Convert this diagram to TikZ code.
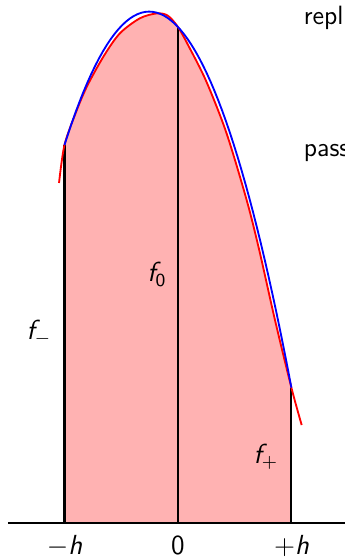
\documentclass[tikz,border=0pt]{standalone}
\tikzset{stem/.style={line width=0.9pt,black},fit/.style={thick,blue},true/.style={thick,red}}
\newcommand{\vlab}[2]{{\itshape #1}\textsubscript{#2}}

\begin{document}
\begin{tikzpicture}[x=1.735cm,y=1.735cm,font=\sffamily]
\useasboundingbox (-1.568,-0.2996) rectangle (1.471,4.608);
% sample values at -h, 0, +h
\def\fminus{3.33}
\def\fzero{4.37}
\def\fplus{1.19}
% area under the true function
\begin{scope}
\clip (-1,0) rectangle (1,5);
\fill[red!30] (-1.048,0) -- plot[smooth] coordinates {(-1.048,2.996) (-1,3.33) (-0.9,3.615) (-0.8,3.85) (-0.65,4.12) (-0.511,4.315) (-0.335,4.447) (-0.185,4.49) (-0.09,4.47) (0,4.37) (0.1,4.19) (0.25,3.89) (0.4273,3.436) (0.605,2.846) (0.716,2.405) (0.8546,1.789) (1,1.19) (1.09,0.863)} -- (1.09,0) -- cycle;
\end{scope}
% ordinates
\foreach \x/\y/\n in {-1/\fminus/m,0/\fzero/z,1/\fplus/p} {
  \coordinate (b\n) at (\x,0);
  \coordinate (t\n) at (\x,\y);
  \draw[stem] (b\n) -- (t\n);
}
% true function
\draw[true] plot[smooth] coordinates {(-1.048,2.996) (-1,3.33) (-0.9,3.615) (-0.8,3.85) (-0.65,4.12) (-0.511,4.315) (-0.335,4.447) (-0.185,4.49) (-0.09,4.47) (0,4.37) (0.1,4.19) (0.25,3.89) (0.4273,3.436) (0.605,2.846) (0.716,2.405) (0.8546,1.789) (1,1.19) (1.09,0.863)};
% parabola through the three samples
\draw[fit] plot[domain=-1:1,samples=60] (\x,{\fzero+(\fplus-\fminus)/2*\x+(\fplus-2*\fzero+\fminus)/2*\x*\x});
% axis
\coordinate (al) at (-1.498,0);
\coordinate (ar) at (1.5,0);
\draw[line width=1.2pt] (al) -- (ar);
% labels
\node[font=\sffamily\large] (lm) at (-1,-0.2) {$-${\itshape h}};
\node[font=\sffamily\large] (lz) at (0,-0.2) {0};
\node[font=\sffamily\large] (lp) at (1,-0.2) {$+${\itshape h}};
\node[font=\sffamily\large] (fm) at (-1.225,1.68) {\vlab{f}{$-$}};
\node[font=\sffamily\large] (fz) at (-0.185,2.19) {\vlab{f}{0}};
\node[font=\sffamily\large] (fp) at (0.775,0.585) {\vlab{f}{+}};
\node[anchor=base west,inner sep=0pt,font=\sffamily\fontsize{11.5}{14}\selectfont] (repl) at (1.105,4.388) {repl};
\node[anchor=base west,inner sep=0pt,font=\sffamily\fontsize{11.5}{14}\selectfont] (pass) at (1.105,3.225) {pass};
\end{tikzpicture}
\end{document}
